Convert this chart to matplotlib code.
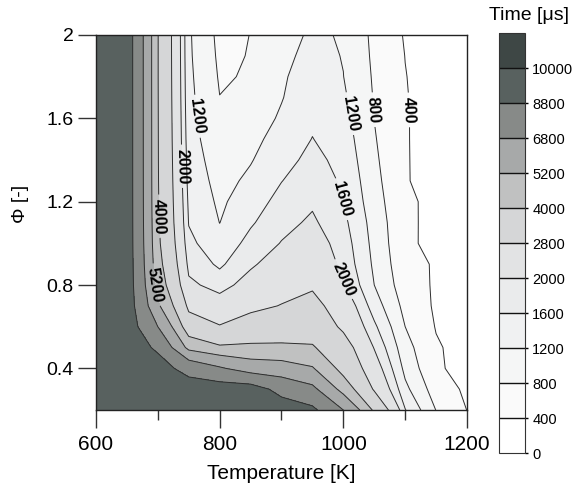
import numpy as np
import matplotlib
matplotlib.use("Agg")
import matplotlib.pyplot as plt

plt.rcParams["font.family"] = ["Liberation Sans", "DejaVu Sans"]

# Grid: temperature [K] (columns) and equivalence ratio (rows)
temperature = [600, 650, 700, 750, 800, 850, 900, 950, 1000, 1050, 1100, 1150, 1200]
phi = [0.2, 0.3, 0.4, 0.5, 0.6, 0.7, 0.8, 0.9, 1.0, 1.1,
       1.2, 1.3, 1.4, 1.5, 1.6, 1.7, 1.8, 1.9, 2.0]

# Ignition delay time [us]; one row per phi value
time_phi_020 = [9800, 9900, 9800, 9800, 9800, 9800, 9800, 9200, 6800, 3800, 1620, 790, 395]
time_phi_030 = [9800, 9900, 9750, 9800, 9800, 9700, 8200, 7200, 4700, 2700, 1300, 600, 335]
time_phi_040 = [9800, 9900, 9600, 8100, 7000, 6000, 5800, 5300, 3600, 2300, 1090, 450, 280]
time_phi_050 = [9800, 9900, 8500, 4800, 4150, 4200, 4200, 4100, 3200, 1970, 940, 440, 260]
time_phi_060 = [9800, 9900, 6800, 3300, 2850, 3200, 3300, 3450, 2650, 1680, 800, 380, 250]
time_phi_070 = [9800, 9900, 5400, 2600, 2250, 2600, 2830, 3050, 2400, 1400, 680, 347, 240]
time_phi_080 = [9800, 9900, 4700, 2100, 1830, 2200, 2500, 2700, 2050, 1200, 580, 355, 230]
time_phi_090 = [9800, 9900, 4380, 1870, 1530, 1930, 2250, 2450, 1880, 1130, 520, 366, 225]
time_phi_100 = [9800, 9900, 4200, 1700, 1330, 1730, 2020, 2250, 1800, 1080, 480, 290, 220]
time_phi_110 = [9800, 9900, 4120, 1580, 1195, 1550, 1870, 2070, 1700, 1040, 470, 305, 215]
time_phi_120 = [9800, 9900, 4080, 1520, 1130, 1410, 1730, 1940, 1595, 980, 440, 345, 210]
time_phi_130 = [9800, 9900, 4060, 1460, 1065, 1280, 1590, 1830, 1540, 920, 420, 295, 205]
time_phi_140 = [9800, 9900, 4050, 1410, 1000, 1175, 1450, 1720, 1470, 870, 425, 260, 200]
time_phi_150 = [9800, 9900, 4045, 1360, 935, 1090, 1350, 1610, 1400, 830, 425, 250, 200]
time_phi_160 = [9800, 9900, 4040, 1330, 870, 1000, 1250, 1530, 1330, 795, 425, 247, 195]
time_phi_170 = [9800, 9900, 4035, 1300, 805, 900, 1180, 1460, 1260, 775, 420, 245, 190]
time_phi_180 = [9800, 9900, 4030, 1280, 765, 830, 1150, 1390, 1205, 755, 410, 243, 190]
time_phi_190 = [9800, 9900, 4030, 1260, 730, 815, 1100, 1320, 1185, 730, 395, 240, 185]
time_phi_200 = [9800, 9900, 4030, 1250, 700, 805, 1050, 1260, 1170, 708, 370, 240, 180]

time_grid = np.array([
    time_phi_020, time_phi_030, time_phi_040, time_phi_050, time_phi_060,
    time_phi_070, time_phi_080, time_phi_090, time_phi_100, time_phi_110,
    time_phi_120, time_phi_130, time_phi_140, time_phi_150, time_phi_160,
    time_phi_170, time_phi_180, time_phi_190, time_phi_200,
], dtype=float)

levels = [0, 400, 800, 1200, 1600, 2000, 2800, 4000, 5200, 6800, 8800, 10000, 12000]
fill_colors = ["#ffffff", "#fafafa", "#f5f6f6", "#f0f1f2", "#eaebec", "#e2e3e4",
               "#d5d6d7", "#c0c1c1", "#a7a9a9", "#878a88", "#58615f", "#3e4745"]

# Labelled isolines and approximate label locations (data coordinates)
label_spots = {
    400: [(1103, 1.64)],
    800: [(1041, 1.64)],
    1200: [(764, 1.61), (1006, 1.62)],
    1600: [(995, 1.21)],
    2000: [(739, 1.37), (1003, 0.83)],
    4000: [(707, 1.13)],
    5200: [(695, 0.80)],
}

fig = plt.figure(figsize=(5.81, 4.97), dpi=100)
ax = fig.add_axes([0.1652, 0.175, 0.6386, 0.7546])

T, P = np.meshgrid(temperature, phi)
line_kw = dict(colors="#2e2e2e", linewidths=0.7)
cf = ax.contourf(T, P, time_grid, levels=levels, colors=fill_colors)

plain_levels = [lv for lv in levels[1:-1] if lv not in label_spots]
ax.contour(T, P, time_grid, levels=plain_levels, **line_kw)
for lvl, spots in label_spots.items():
    cs = ax.contour(T, P, time_grid, levels=[lvl], **line_kw)
    texts = cs.clabel(manual=spots, inline=True, inline_spacing=4,
                      fmt="%d", fontsize=11.5, colors="k")
    for t in texts:
        t.set_fontweight("bold")

ax.set_xlim(600, 1200)
ax.set_ylim(0.2, 2.0)
ax.set_xticks([600, 800, 1000, 1200])
ax.set_xticks([700, 900, 1100], minor=True)
ax.set_yticks([0.4, 0.8, 1.2, 1.6, 2.0])
ax.set_yticklabels(["0.4", "0.8", "1.2", "1.6", "2"])
ax.tick_params(which="major", direction="out", length=13, width=1, color="#333333")
ax.tick_params(which="minor", direction="out", length=7, width=1, color="#333333")
ax.tick_params(axis="x", labelsize=15, pad=5)
ax.tick_params(axis="y", labelsize=14, pad=3)
ax.set_xlabel("Temperature [K]", fontsize=15, labelpad=7)
ax.set_ylabel("Φ [-]", fontsize=14)
ax.yaxis.set_label_coords(-0.18, 0.55)
for sp in ax.spines.values():
    sp.set_linewidth(1.0)
    sp.set_color("#222222")

cax = fig.add_axes([0.859, 0.0885, 0.045, 0.845])
cb = fig.colorbar(cf, cax=cax, ticks=levels[:-1], drawedges=True)
cb.dividers.set_color("#111111")
cb.dividers.set_linewidth(1.0)
cb.outline.set_linewidth(0.8)
cb.outline.set_edgecolor("#333333")
cax.tick_params(length=2, width=1, labelsize=10.5, pad=3)
fig.text(529 / 581, 1 - 16 / 497, "Time [μs]", fontsize=14, ha="center", va="center")

fig.savefig("out.png", dpi=100)
